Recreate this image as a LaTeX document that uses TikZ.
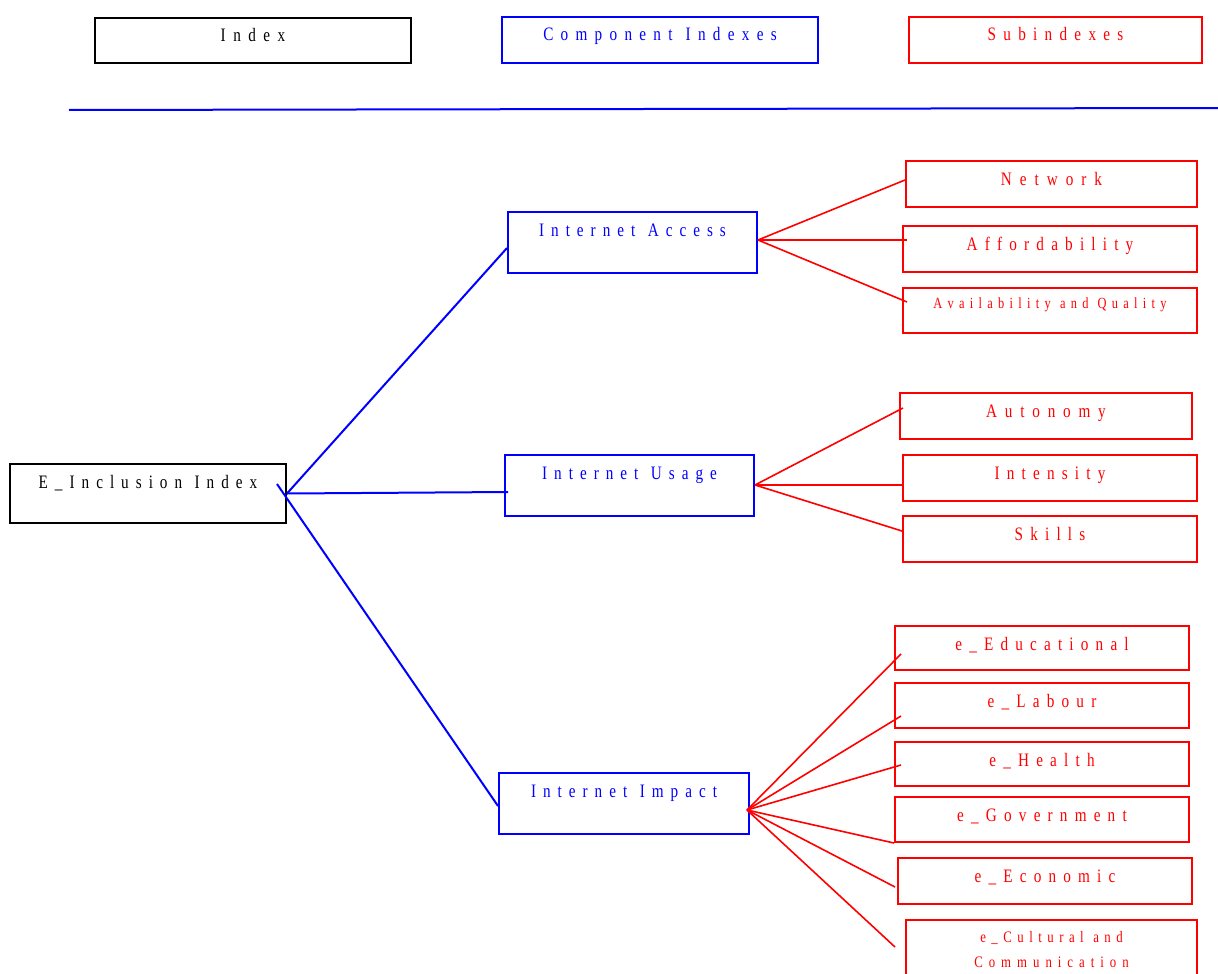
\documentclass[tikz,border=0pt]{standalone}
\usepackage{fontspec}
\newfontfamily\lab[FakeStretch=0.8]{Liberation Serif}
\newcommand\wsp{\kern-1.5pt}
\makeatletter
\def\trk#1#2{\def\trk@k{#1}\trk@loop#2\trk@end}
\def\trk@end{\trk@end}
\def\trk@loop#1{\ifx#1\trk@end\kern-\trk@k\else#1\kern\trk@k\expandafter\trk@loop\fi}
\makeatother
\usetikzlibrary{calc}
\definecolor{pblue}{RGB}{0,0,255}
\definecolor{pred}{RGB}{255,0,0}
\tikzset{
 bx/.style={draw, line width=2pt, inner sep=0pt, anchor=north west, align=center,
   text height=24pt, font=\lab\fontsize{19}{22}\selectfont},
 kbox/.style={bx, draw=black, text=black},
 bbox/.style={bx, draw=pblue, text=pblue},
 rbox/.style={bx, draw=pred, text=pred},
 bline/.style={pblue, line width=2pt},
 rline/.style={pred, line width=1.6pt},
}
\begin{document}
\begin{tikzpicture}[x=1pt,y=-1pt]
\useasboundingbox (0,0) rectangle (1218,974);
% legend
\node[kbox, text width=316pt, text depth=21pt] (lidx) at (94,17) {\trk{7.5pt}{Index}};
\node[bbox, text width=316pt, text depth=22pt] (lcomp) at (501,16) {\trk{7.3pt}{Component\wsp Indexes}};
\node[rbox, text width=293pt, text depth=22pt] (lsub) at (908,16) {\trk{7.3pt}{Subindexes}};
\coordinate (l1) at (69,110);
\coordinate (l2) at (1218,108);
\draw[bline] (l1) -- (l2);
% main index
\node[kbox, text width=276pt, text depth=35pt] (einc) at (9,463) {\trk{7pt}{E\_Inclusion\wsp Index}};
% component indexes
\node[bbox, text width=249pt, text depth=37pt] (acc) at (507,211) {\trk{7pt}{Internet\wsp Access}};
\node[bbox, text width=249pt, text depth=37pt] (use) at (504,454) {\trk{7pt}{Internet\wsp Usage}};
\node[bbox, text width=250pt, text depth=37pt] (imp) at (498,772) {\trk{7pt}{Internet\wsp Impact}};
% subindexes
\node[rbox, text width=291pt, text depth=22pt] (net) at (905,160) {\trk{8pt}{Network}};
\node[rbox, text width=294pt, text depth=22pt] (aff) at (902,225) {\trk{7.2pt}{Affordability}};
\node[rbox, text width=294pt, text height=20pt, text depth=25pt, font=\lab\fontsize{15.5}{18}\selectfont] (ava) at (902,287) {\trk{5.3pt}{Availability\wsp and\wsp Quality}};
\node[rbox, text width=292pt, text depth=22pt] (aut) at (899,392) {\trk{7.8pt}{Autonomy}};
\node[rbox, text width=294pt, text depth=22pt] (int) at (902,454) {\trk{7.2pt}{Intensity}};
\node[rbox, text width=294pt, text depth=22pt] (ski) at (902,515) {\trk{7.2pt}{Skills}};
\node[rbox, text width=294pt, text depth=20pt] (edu) at (894,625) {\trk{7.2pt}{e\_Educational}};
\node[rbox, text width=294pt, text depth=21pt] (lab) at (894,682) {\trk{7.2pt}{e\_Labour}};
\node[rbox, text width=294pt, text depth=20pt] (hea) at (894,741) {\trk{7.2pt}{e\_Health}};
\node[rbox, text width=294pt, text depth=21pt] (gov) at (894,796) {\trk{7.2pt}{e\_Government}};
\node[rbox, text width=294pt, text depth=22pt] (eco) at (897,857) {\trk{7.2pt}{e\_Economic}};
\node[rbox, text width=291pt, text height=22pt, text depth=42pt, font=\lab\fontsize{16}{25}\selectfont] (cul) at (905,919) {\trk{5.5pt}{e\_Cultural\wsp and}\\\trk{6pt}{Communication}};
% blue connectors
\coordinate (tail) at ($(einc.north east)+(-10,21)$);
\draw[bline] (einc.east) -- ($(acc.north west)+(0,37)$);
\draw[bline] (einc.east) -- ($(use.north west)+(4,38)$);
\draw[bline] (tail) -- ($(imp.north west)+(0,34)$);
% red connectors
\coordinate (ha) at ($(acc.north east)+(0,29)$);
\draw[rline] (ha) -- ($(net.north west)+(0,20)$);
\draw[rline] (ha) -- ($(aff.north west)+(5,15)$);
\draw[rline] (ha) -- ($(ava.north west)+(5,15)$);
\coordinate (hu) at ($(use.north east)+(0,31)$);
\draw[rline] (hu) -- ($(aut.north west)+(4,16)$);
\draw[rline] (hu) -- ($(int.north west)+(0,31)$);
\draw[rline] (hu) -- ($(ski.north west)+(0,16)$);
\coordinate (hi) at ($(imp.north east)+(-3,38)$);
\draw[rline] (hi) -- ($(edu.north west)+(7,29)$);
\draw[rline] (hi) -- ($(lab.north west)+(7,34)$);
\draw[rline] (hi) -- ($(hea.north west)+(7,24)$);
\draw[rline] (hi) -- (gov.south west);
\draw[rline] (hi) -- ($(eco.north west)+(-2,30)$);
\draw[rline] (hi) -- ($(cul.north west)+(-10,28)$);
\end{tikzpicture}
\end{document}
